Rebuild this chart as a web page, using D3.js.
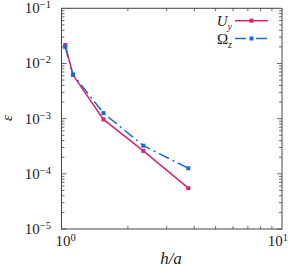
<!DOCTYPE html>
<html>
<head>
<script src="https://d3js.org/d3.v7.min.js"></script>
<style>
  body { margin: 0; background: #fff; }
</style>
</head>
<body>
<script>
// values
const hOverA = [1.04, 1.127, 1.55, 2.35, 3.76]
const errUy = [0.0216, 0.0062, 0.00097, 0.00026, 0.000055]
const errOz = [0.0200, 0.0063, 0.00126, 0.000324, 0.000126]
const yTicks = [1e-5, 1e-4, 1e-3, 1e-2, 1e-1]
const yExp = ['\u22125', '\u22124', '\u22123', '\u22122', '\u22121']
const xTicks = [1, 10]
const xExp = ['0', '1']

const W = 291, H = 269
const m = {left: 61.5, right: 282, top: 8.3, bottom: 229}
const red = '#d6246e', blue = '#1c68d6', axisCol = '#444'
const serif = "'Liberation Serif', 'DejaVu Serif', 'Times New Roman', serif"

const svg = d3.select('body').append('svg').attr('width', W).attr('height', H)
  .attr('font-family', serif)

const x = d3.scaleLog().domain([1, 10]).range([m.left, m.right])
const y = d3.scaleLog().domain([1e-5, 1e-1]).range([m.bottom, m.top])

// minor / major ticks, inward, on all four sides
const g = svg.append('g').attr('stroke', axisCol).attr('stroke-width', 0.8)
for (let d = 1; d < 10; d++) {
  const len = d === 1 ? 5 : 3
  g.append('line').attr('x1', x(d)).attr('x2', x(d)).attr('y1', m.bottom).attr('y2', m.bottom - len)
  g.append('line').attr('x1', x(d)).attr('x2', x(d)).attr('y1', m.top).attr('y2', m.top + len)
}
for (let e = -5; e <= -2; e++) {
  for (let d = 1; d < 10; d++) {
    const v = d * Math.pow(10, e)
    const len = d === 1 ? 5 : 3
    g.append('line').attr('y1', y(v)).attr('y2', y(v)).attr('x1', m.left).attr('x2', m.left + len)
    g.append('line').attr('y1', y(v)).attr('y2', y(v)).attr('x1', m.right).attr('x2', m.right - len)
  }
}
svg.append('rect').attr('x', m.left).attr('y', m.top)
  .attr('width', m.right - m.left).attr('height', m.bottom - m.top)
  .attr('fill', 'none').attr('stroke', axisCol).attr('stroke-width', 1)

// tick labels
yTicks.forEach((v, i) => {
  const t = svg.append('text').attr('x', 51).attr('y', y(v) + 5).attr('text-anchor', 'end')
    .attr('fill', '#222').style('font-size', '15px')
  t.append('tspan').text('10')
  t.append('tspan').attr('dy', -5).style('font-size', '10.5px').text(yExp[i])
})
xTicks.forEach((v, i) => {
  const t = svg.append('text').attr('y', 245.5).attr('fill', '#222').style('font-size', '15px')
  if (i === 0) t.attr('x', x(v) + 4).attr('text-anchor', 'middle')
  else t.attr('x', 288).attr('text-anchor', 'end')
  t.append('tspan').text('10')
  t.append('tspan').attr('dy', -5).style('font-size', '10.5px').text(xExp[i])
})

// axis titles
svg.append('text').attr('x', 171).attr('y', 264).attr('text-anchor', 'middle').attr('fill', '#222')
  .style('font-size', '17px').style('font-style', 'italic').text('h/a')
svg.append('text').attr('transform', 'translate(12,118) rotate(-90)').attr('text-anchor', 'middle').attr('fill', '#222')
  .style('font-size', '15px').style('font-style', 'italic').text('\u03b5')

// series
const line = d3.line().x(d => x(d[0])).y(d => y(d[1]))
const series = [
  {vals: errUy, col: red, dash: null},
  {vals: errOz, col: blue, dash: '11,4,2,4'}
]
series.forEach(s => {
  const pts = hOverA.map((h, i) => [h, s.vals[i]])
  svg.append('path').datum(pts).attr('d', line).attr('fill', 'none')
    .attr('stroke', s.col).attr('stroke-width', 1.5).attr('stroke-dasharray', s.dash)
  svg.selectAll(null).data(pts).enter().append('rect')
    .attr('x', d => x(d[0]) - 2).attr('y', d => y(d[1]) - 2)
    .attr('width', 4).attr('height', 4).attr('fill', s.col)
})

// legend
const leg = [
  {main: 'U', sub: 'y', col: red, dash: null, yy: 20.7, italicMain: true},
  {main: '\u03a9', sub: 'z', col: blue, dash: '11,4,2,4', yy: 38.5, italicMain: false}
]
leg.forEach(l => {
  const t = svg.append('text').attr('x', 232).attr('y', l.yy + 5).attr('text-anchor', 'end')
    .attr('fill', '#222').style('font-size', '15px')
  t.append('tspan').style('font-style', l.italicMain ? 'italic' : 'normal').text(l.main)
  t.append('tspan').attr('dy', 4).style('font-size', '10px').style('font-style', 'italic').text(l.sub)
  svg.append('line').attr('x1', 235).attr('x2', 268).attr('y1', l.yy).attr('y2', l.yy)
    .attr('stroke', l.col).attr('stroke-width', 1.5).attr('stroke-dasharray', l.dash)
  svg.append('rect').attr('x', 251.5 - 2).attr('y', l.yy - 2).attr('width', 4).attr('height', 4).attr('fill', l.col)
})
</script>
</body>
</html>
